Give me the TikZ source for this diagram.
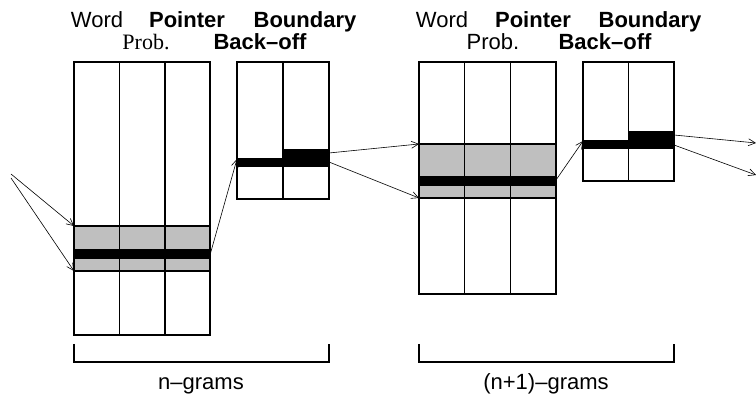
\documentclass[tikz,border=0pt]{standalone}
\usepackage{fontspec}
\setmainfont{Liberation Serif}
\setsansfont{Liberation Sans}
\usetikzlibrary{arrows.meta,positioning}

\begin{document}
\begin{tikzpicture}[x=1pt, y=-1pt,
  lbl/.style={font=\sffamily\fontsize{22}{26}\selectfont, anchor=base, inner sep=0pt},
  blbl/.style={lbl, font=\sffamily\bfseries\fontsize{22}{26}\selectfont},
  rlbl/.style={lbl, font=\rmfamily\fontsize{22}{26}\selectfont},
  tab/.style={draw, line width=1.1pt},
  ptr/.style={draw, line width=1.6pt},
  sel/.style={fill=black!25, draw, line width=1.1pt},
  hit/.style={fill=black},
  link/.style={line width=0.6pt, -{Straight Barb[length=7pt,width=7pt]}}]
	\useasboundingbox (0,0) rectangle (756,395);

	% column headings, n-grams
	\node[lbl] (word1) at (97,28) {Word};
	\node[blbl] (ptr1) at (187,28) {Pointer};
	\node[blbl] (bnd1) at (305,28) {Boundary};
	\node[rlbl] (prob1) at (146,50) {Prob.};
	\node[blbl] (bo1) at (260,50) {Back–off};
	% column headings, (n+1)-grams
	\node[lbl] (word2) at (442,28) {Word};
	\node[blbl] (ptr2) at (533,28) {Pointer};
	\node[blbl] (bnd2) at (650,28) {Boundary};
	\node[lbl] (prob2) at (493,50) {Prob.};
	\node[blbl] (bo2) at (605,50) {Back–off};

	% n-gram table
	\draw[sel] (74,226) rectangle (210,271);
	\fill[hit] (74,249) rectangle (210,259);
	\draw[tab] (74,62) rectangle (210,335);
	\draw[tab] (119.5,62) -- (119.5,335);
	\draw[ptr] (165,62) rectangle (210,335);
	% n-gram back-off table
	\fill[hit] (237,158) rectangle (283,167);
	\fill[hit] (283,149) rectangle (329,167);
	\draw[tab] (237,62) rectangle (329,199);
	\draw[tab] (283,62) -- (283,199);

	% (n+1)-gram table
	\draw[sel] (419,144) rectangle (556,198);
	\fill[hit] (419,176) rectangle (556,186);
	\draw[tab] (419,62) rectangle (556,294);
	\draw[tab] (464.7,62) -- (464.7,294);
	\draw[ptr] (510.3,62) rectangle (556,294);
	% (n+1)-gram back-off table
	\fill[hit] (583,140) rectangle (628.5,149);
	\fill[hit] (628.5,131) rectangle (674,149);
	\draw[tab] (583,62) rectangle (674,181);
	\draw[tab] (628.5,62) -- (628.5,181);

	% link ends
	\coordinate (ina) at (11,174);
	\coordinate (inb) at (11,178);
	\coordinate (sel1top) at (74,226);
	\coordinate (sel1bot) at (74,271);
	\coordinate (hit1) at (210,255);
	\coordinate (bo1in) at (237,159);
	\coordinate (bo1a) at (329,153);
	\coordinate (bo1b) at (329,162);
	\coordinate (sel2top) at (419,144);
	\coordinate (sel2bot) at (419,198);
	\coordinate (hit2) at (556,180);
	\coordinate (bo2in) at (583,141);
	\coordinate (bo2a) at (674,135);
	\coordinate (bo2b) at (674,145);
	\coordinate (outa) at (756,143);
	\coordinate (outb) at (756,175);

	\draw[link] (ina) -- (sel1top);
	\draw[link] (inb) -- (sel1bot);
	\draw[link] (hit1) -- (bo1in);
	\draw[link] (bo1a) -- (sel2top);
	\draw[link] (bo1b) -- (sel2bot);
	\draw[link] (hit2) -- (bo2in);
	\draw[link] (bo2a) -- (outa);
	\draw[link] (bo2b) -- (outb);

	% brackets
	\draw[line width=1.1pt] (74,344) |- (329,362) -- (329,344);
	\draw[line width=1.1pt] (419,344) |- (674,362) -- (674,344);
	\node[lbl] (ngr) at (201,390) {n–grams};
	\node[lbl] (n1gr) at (546,390) {(n+1)–grams};
\end{tikzpicture}
\end{document}
